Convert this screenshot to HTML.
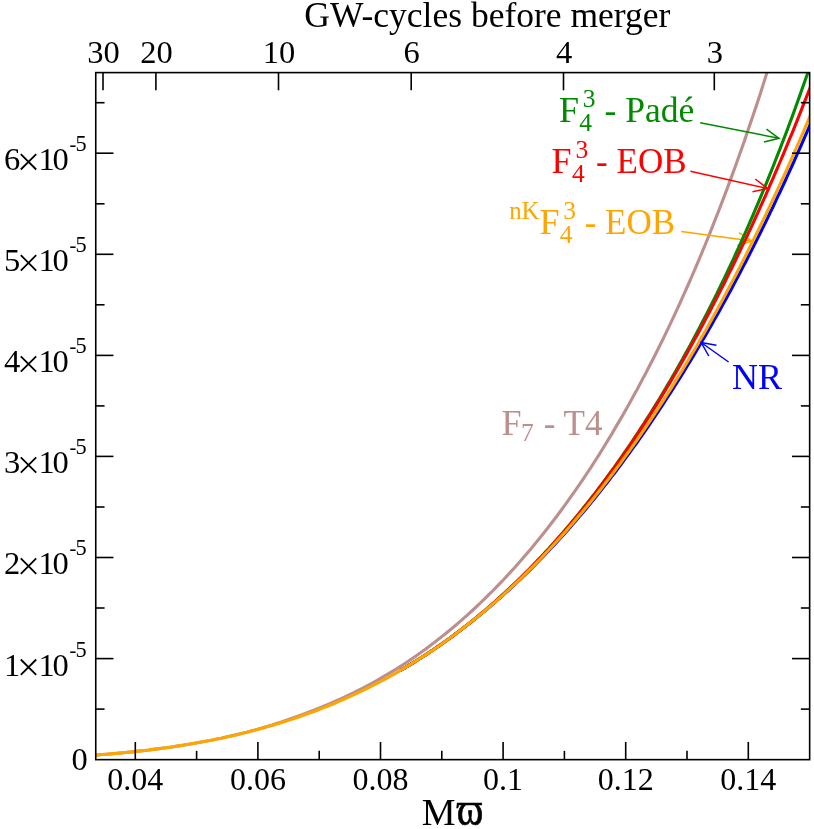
<!DOCTYPE html>
<html><head><meta charset="utf-8"><title>GW flux</title>
<style>html,body{margin:0;padding:0;background:#fff}svg{display:block;will-change:transform}text{font-family:"Liberation Serif",serif;}</style></head><body>
<svg width="814" height="829" viewBox="0 0 814 829">
<rect width="814" height="829" fill="#fff"/>
<defs><clipPath id="c"><rect x="95.75" y="72.6" width="713.9" height="687.05"/></clipPath></defs>
<g clip-path="url(#c)" fill="none" stroke-width="3.1" stroke-linejoin="round">
<path d="M93.8,755.2 L98.0,754.9 L102.2,754.5 L106.5,754.2 L110.7,753.9 L115.0,753.5 L119.2,753.1 L123.5,752.7 L127.7,752.3 L132.0,751.9 L136.2,751.4 L140.5,750.9 L144.7,750.5 L149.0,750.0 L153.2,749.4 L157.5,748.9 L161.7,748.3 L166.0,747.8 L170.2,747.2 L174.5,746.5 L178.7,745.9 L183.0,745.2 L187.2,744.5 L191.5,743.8 L195.7,743.1 L199.9,742.3 L204.2,741.5 L208.4,740.7 L212.7,739.9 L216.9,739.0 L221.2,738.2 L225.4,737.3 L229.7,736.3 L233.9,735.3 L238.2,734.3 L242.4,733.3 L246.7,732.2 L250.9,731.0 L255.2,729.9 L259.4,728.7 L263.7,727.4 L267.9,726.2 L272.2,724.9 L276.4,723.5 L280.7,722.2 L284.9,720.8 L289.2,719.3 L293.4,717.8 L297.7,716.3 L301.9,714.8 L306.1,713.2 L310.4,711.5 L314.6,709.9 L318.9,708.2 L323.1,706.5 L327.4,704.7 L331.6,702.9 L335.9,701.0 L340.1,699.1 L344.4,697.1 L348.6,695.1 L352.9,693.1 L357.1,691.0 L361.4,688.8 L365.6,686.6 L369.9,684.3 L374.1,682.0 L378.4,679.6 L382.6,677.2 L386.9,674.7 L391.1,672.2 L395.4,669.6 L399.6,666.9 L403.8,664.2 L408.1,661.4 L412.3,658.5 L416.6,655.6 L420.8,652.5 L425.1,649.5 L429.3,646.3 L433.6,643.1 L437.8,639.8 L442.1,636.4 L446.3,633.0 L450.6,629.5 L454.8,626.0 L459.1,622.3 L463.3,618.6 L467.6,614.8 L471.8,611.0 L476.1,607.0 L480.3,603.0 L484.6,598.9 L488.8,594.7 L493.1,590.5 L497.3,586.1 L501.6,581.7 L505.8,577.2 L510.0,572.6 L514.3,568.0 L518.5,563.2 L522.8,558.3 L527.0,553.4 L531.3,548.4 L535.5,543.2 L539.8,538.0 L544.0,532.7 L548.3,527.3 L552.5,521.8 L556.8,516.2 L561.0,510.5 L565.3,504.6 L569.5,498.7 L573.8,492.7 L578.0,486.6 L582.3,480.4 L586.5,474.0 L590.8,467.6 L595.0,461.0 L599.3,454.3 L603.5,447.5 L607.7,440.6 L612.0,433.6 L616.2,426.4 L620.5,419.1 L624.7,411.7 L629.0,404.2 L633.2,396.5 L637.5,388.7 L641.7,380.8 L646.0,372.8 L650.2,364.5 L654.5,356.2 L658.7,347.7 L663.0,339.1 L667.2,330.3 L671.5,321.4 L675.7,312.3 L680.0,303.0 L684.2,293.6 L688.5,284.0 L692.7,274.3 L697.0,264.4 L701.2,254.3 L705.5,244.0 L709.7,233.6 L713.9,222.9 L718.2,212.1 L722.4,201.1 L726.7,189.9 L730.9,178.4 L735.2,166.8 L739.4,155.0 L743.7,142.9 L747.9,130.6 L752.2,118.1 L756.4,105.4 L760.7,92.4 L764.9,79.1 L769.2,65.7 L773.4,51.9 L777.7,37.9 L781.9,23.6 L786.2,9.1 L790.4,-5.8 L794.7,-20.9 L798.9,-36.3 L803.2,-52.1 L807.4,-68.1 L811.6,-84.5" stroke="#bc8f8f"/>
</g><g stroke="#ffa500" stroke-width="1.5" fill="none"><line x1="681.2" y1="231.5" x2="752" y2="240.9"/><path d="M738.9,232.6 L752,240.9 L737.2,245.5"/></g><g clip-path="url(#c)" fill="none" stroke-width="3.1" stroke-linejoin="round">
<path d="M400.0,670.7 L402.4,669.2 L404.9,667.8 L407.3,666.3 L409.7,664.9 L412.2,663.4 L414.6,661.9 L417.1,660.3 L419.5,658.8 L421.9,657.2 L424.4,655.7 L426.8,654.1 L429.2,652.5 L431.7,650.8 L434.1,649.2 L436.5,647.5 L439.0,645.9 L441.4,644.2 L443.8,642.5 L446.3,640.7 L448.7,639.0 L451.2,637.2 L453.6,635.4 L456.0,633.6 L458.5,631.8 L460.9,630.0 L463.3,628.1 L465.8,626.3 L468.2,624.4 L470.6,622.5 L473.1,620.5 L475.5,618.6 L477.9,616.6 L480.4,614.6 L482.8,612.6 L485.3,610.6 L487.7,608.6 L490.1,606.5 L492.6,604.4 L495.0,602.3 L497.4,600.2 L499.9,598.1 L502.3,595.9 L504.7,593.7 L507.2,591.5 L509.6,589.3 L512.0,587.1 L514.5,584.8 L516.9,582.5 L519.4,580.2 L521.8,577.9 L524.2,575.5 L526.7,573.2 L529.1,570.8 L531.5,568.4 L534.0,566.0 L536.4,563.5 L538.8,561.0 L541.3,558.5 L543.7,556.0 L546.1,553.5 L548.6,550.9 L551.0,548.3 L553.5,545.7 L555.9,543.1 L558.3,540.5 L560.8,537.8 L563.2,535.1 L565.6,532.4 L568.1,529.7 L570.5,526.9 L572.9,524.1 L575.4,521.3 L577.8,518.5 L580.2,515.6 L582.7,512.8 L585.1,509.9 L587.6,506.9 L590.0,504.0 L592.4,501.0 L594.9,498.0 L597.3,495.0 L599.7,492.0 L602.2,488.9 L604.6,485.8 L607.0,482.7 L609.5,479.6 L611.9,476.4 L614.4,473.2 L616.8,470.0 L619.2,466.8 L621.7,463.5 L624.1,460.2 L626.5,456.9 L629.0,453.6 L631.4,450.2 L633.8,446.9 L636.3,443.5 L638.7,440.0 L641.1,436.6 L643.6,433.1 L646.0,429.6 L648.5,426.0 L650.9,422.4 L653.3,418.9 L655.8,415.2 L658.2,411.6 L660.6,407.9 L663.1,404.2 L665.5,400.5 L667.9,396.7 L670.4,393.0 L672.8,389.2 L675.2,385.3 L677.7,381.5 L680.1,377.6 L682.6,373.6 L685.0,369.7 L687.4,365.7 L689.9,361.7 L692.3,357.7 L694.7,353.6 L697.2,349.5 L699.6,345.4 L702.0,341.3 L704.5,337.1 L706.9,332.9 L709.3,328.7 L711.8,324.4 L714.2,320.1 L716.7,315.8 L719.1,311.4 L721.5,307.0 L724.0,302.6 L726.4,298.2 L728.8,293.7 L731.3,289.2 L733.7,284.6 L736.1,280.0 L738.6,275.4 L741.0,270.8 L743.4,266.1 L745.9,261.4 L748.3,256.7 L750.8,251.9 L753.2,247.1 L755.6,242.3 L758.1,237.4 L760.5,232.5 L762.9,227.6 L765.4,222.6 L767.8,217.6 L770.2,212.5 L772.7,207.5 L775.1,202.3 L777.5,197.2 L780.0,192.0 L782.4,186.8 L784.9,181.5 L787.3,176.2 L789.7,170.9 L792.2,165.5 L794.6,160.1 L797.0,154.6 L799.5,149.1 L801.9,143.6 L804.3,138.1 L806.8,132.4 L809.2,126.8 L811.6,121.1" stroke="#0000ff"/>
<path d="M400.0,670.7 L402.4,669.2 L404.9,667.8 L407.3,666.3 L409.7,664.9 L412.2,663.4 L414.6,661.9 L417.1,660.3 L419.5,658.8 L421.9,657.3 L424.4,655.7 L426.8,654.1 L429.2,652.5 L431.7,650.8 L434.1,649.2 L436.5,647.5 L439.0,645.8 L441.4,644.1 L443.8,642.4 L446.3,640.7 L448.7,638.9 L451.2,637.1 L453.6,635.3 L456.0,633.5 L458.5,631.7 L460.9,629.8 L463.3,627.9 L465.8,626.0 L468.2,624.1 L470.6,622.2 L473.1,620.2 L475.5,618.2 L477.9,616.2 L480.4,614.2 L482.8,612.1 L485.3,610.1 L487.7,608.0 L490.1,605.9 L492.6,603.7 L495.0,601.6 L497.4,599.4 L499.9,597.2 L502.3,595.0 L504.7,592.8 L507.2,590.5 L509.6,588.3 L512.0,586.0 L514.5,583.6 L516.9,581.3 L519.4,578.9 L521.8,576.5 L524.2,574.1 L526.7,571.7 L529.1,569.2 L531.5,566.7 L534.0,564.2 L536.4,561.7 L538.8,559.1 L541.3,556.6 L543.7,554.0 L546.1,551.3 L548.6,548.7 L551.0,546.0 L553.5,543.3 L555.9,540.6 L558.3,537.8 L560.8,535.0 L563.2,532.2 L565.6,529.4 L568.1,526.5 L570.5,523.7 L572.9,520.8 L575.4,517.8 L577.8,514.9 L580.2,511.9 L582.7,508.8 L585.1,505.8 L587.6,502.7 L590.0,499.6 L592.4,496.5 L594.9,493.4 L597.3,490.2 L599.7,487.0 L602.2,483.7 L604.6,480.4 L607.0,477.1 L609.5,473.8 L611.9,470.5 L614.4,467.1 L616.8,463.6 L619.2,460.2 L621.7,456.7 L624.1,453.2 L626.5,449.7 L629.0,446.1 L631.4,442.5 L633.8,438.9 L636.3,435.2 L638.7,431.5 L641.1,427.7 L643.6,424.0 L646.0,420.2 L648.5,416.3 L650.9,412.5 L653.3,408.6 L655.8,404.6 L658.2,400.7 L660.6,396.7 L663.1,392.6 L665.5,388.5 L667.9,384.4 L670.4,380.3 L672.8,376.1 L675.2,371.9 L677.7,367.6 L680.1,363.3 L682.6,359.0 L685.0,354.6 L687.4,350.2 L689.9,345.7 L692.3,341.2 L694.7,336.7 L697.2,332.1 L699.6,327.5 L702.0,322.8 L704.5,318.1 L706.9,313.4 L709.3,308.6 L711.8,303.8 L714.2,298.9 L716.7,294.0 L719.1,289.0 L721.5,284.0 L724.0,279.0 L726.4,273.9 L728.8,268.7 L731.3,263.5 L733.7,258.3 L736.1,253.0 L738.6,247.7 L741.0,242.3 L743.4,236.8 L745.9,231.4 L748.3,225.8 L750.8,220.2 L753.2,214.6 L755.6,208.9 L758.1,203.1 L760.5,197.3 L762.9,191.5 L765.4,185.6 L767.8,179.6 L770.2,173.6 L772.7,167.5 L775.1,161.3 L777.5,155.1 L780.0,148.9 L782.4,142.5 L784.9,136.1 L787.3,129.7 L789.7,123.2 L792.2,116.6 L794.6,109.9 L797.0,103.2 L799.5,96.4 L801.9,89.6 L804.3,82.7 L806.8,75.7 L809.2,68.6 L811.6,61.5" stroke="#008a00"/>
<path d="M400.0,670.7 L402.4,669.2 L404.9,667.8 L407.3,666.3 L409.7,664.9 L412.2,663.4 L414.6,661.9 L417.1,660.4 L419.5,658.8 L421.9,657.3 L424.4,655.7 L426.8,654.1 L429.2,652.5 L431.7,650.9 L434.1,649.2 L436.5,647.6 L439.0,645.9 L441.4,644.2 L443.8,642.5 L446.3,640.7 L448.7,639.0 L451.2,637.2 L453.6,635.4 L456.0,633.6 L458.5,631.8 L460.9,629.9 L463.3,628.0 L465.8,626.1 L468.2,624.2 L470.6,622.3 L473.1,620.3 L475.5,618.4 L477.9,616.4 L480.4,614.3 L482.8,612.3 L485.3,610.2 L487.7,608.2 L490.1,606.1 L492.6,603.9 L495.0,601.8 L497.4,599.6 L499.9,597.4 L502.3,595.2 L504.7,593.0 L507.2,590.7 L509.6,588.5 L512.0,586.2 L514.5,583.9 L516.9,581.5 L519.4,579.1 L521.8,576.8 L524.2,574.4 L526.7,571.9 L529.1,569.5 L531.5,567.0 L534.0,564.5 L536.4,561.9 L538.8,559.4 L541.3,556.8 L543.7,554.2 L546.1,551.6 L548.6,549.0 L551.0,546.3 L553.5,543.6 L555.9,540.9 L558.3,538.1 L560.8,535.3 L563.2,532.5 L565.6,529.7 L568.1,526.9 L570.5,524.0 L572.9,521.1 L575.4,518.2 L577.8,515.2 L580.2,512.2 L582.7,509.2 L585.1,506.2 L587.6,503.1 L590.0,500.0 L592.4,496.9 L594.9,493.8 L597.3,490.6 L599.7,487.4 L602.2,484.2 L604.6,480.9 L607.0,477.6 L609.5,474.3 L611.9,471.0 L614.4,467.6 L616.8,464.2 L619.2,460.8 L621.7,457.4 L624.1,453.9 L626.5,450.4 L629.0,446.8 L631.4,443.2 L633.8,439.6 L636.3,436.0 L638.7,432.3 L641.1,428.6 L643.6,424.9 L646.0,421.2 L648.5,417.4 L650.9,413.6 L653.3,409.7 L655.8,405.8 L658.2,401.9 L660.6,398.0 L663.1,394.0 L665.5,390.0 L667.9,386.0 L670.4,381.9 L672.8,377.8 L675.2,373.6 L677.7,369.5 L680.1,365.3 L682.6,361.0 L685.0,356.8 L687.4,352.5 L689.9,348.1 L692.3,343.7 L694.7,339.3 L697.2,334.9 L699.6,330.4 L702.0,325.9 L704.5,321.4 L706.9,316.8 L709.3,312.2 L711.8,307.5 L714.2,302.8 L716.7,298.1 L719.1,293.4 L721.5,288.6 L724.0,283.7 L726.4,278.9 L728.8,273.9 L731.3,269.0 L733.7,264.0 L736.1,259.0 L738.6,253.9 L741.0,248.9 L743.4,243.7 L745.9,238.6 L748.3,233.3 L750.8,228.1 L753.2,222.8 L755.6,217.5 L758.1,212.1 L760.5,206.7 L762.9,201.3 L765.4,195.8 L767.8,190.3 L770.2,184.7 L772.7,179.1 L775.1,173.4 L777.5,167.8 L780.0,162.0 L782.4,156.3 L784.9,150.4 L787.3,144.6 L789.7,138.7 L792.2,132.8 L794.6,126.8 L797.0,120.8 L799.5,114.7 L801.9,108.6 L804.3,102.4 L806.8,96.2 L809.2,90.0 L811.6,83.7" stroke="#ff0000"/>
<path d="M93.8,755.2 L98.0,754.9 L102.2,754.5 L106.5,754.2 L110.7,753.9 L115.0,753.5 L119.2,753.1 L123.5,752.7 L127.7,752.3 L132.0,751.9 L136.2,751.4 L140.5,750.9 L144.7,750.5 L149.0,750.0 L153.2,749.4 L157.5,748.9 L161.7,748.3 L166.0,747.8 L170.2,747.2 L174.5,746.5 L178.7,745.9 L183.0,745.2 L187.2,744.5 L191.5,743.8 L195.7,743.1 L199.9,742.3 L204.2,741.5 L208.4,740.7 L212.7,739.9 L216.9,739.0 L221.2,738.2 L225.4,737.3 L229.7,736.3 L233.9,735.4 L238.2,734.4 L242.4,733.3 L246.7,732.3 L250.9,731.2 L255.2,730.1 L259.4,729.0 L263.7,727.8 L267.9,726.6 L272.2,725.4 L276.4,724.1 L280.7,722.8 L284.9,721.5 L289.2,720.1 L293.4,718.7 L297.7,717.3 L301.9,715.8 L306.1,714.3 L310.4,712.7 L314.6,711.2 L318.9,709.5 L323.1,707.9 L327.4,706.2 L331.6,704.5 L335.9,702.7 L340.1,700.9 L344.4,699.0 L348.6,697.1 L352.9,695.2 L357.1,693.2 L361.4,691.2 L365.6,689.1 L369.9,687.0 L374.1,684.8 L378.4,682.6 L382.6,680.4 L386.9,678.1 L391.1,675.7 L395.4,673.3 L399.6,670.9 L403.8,668.4 L408.1,665.9 L412.3,663.3 L416.6,660.6 L420.8,657.9 L425.1,655.2 L429.3,652.4 L433.6,649.6 L437.8,646.7 L442.1,643.7 L446.3,640.7 L450.6,637.6 L454.8,634.5 L459.1,631.3 L463.3,628.1 L467.6,624.8 L471.8,621.4 L476.1,618.0 L480.3,614.6 L484.6,611.0 L488.8,607.5 L493.1,603.8 L497.3,600.1 L501.6,596.3 L505.8,592.5 L510.0,588.6 L514.3,584.6 L518.5,580.6 L522.8,576.5 L527.0,572.3 L531.3,568.1 L535.5,563.8 L539.8,559.5 L544.0,555.0 L548.3,550.5 L552.5,546.0 L556.8,541.3 L561.0,536.6 L565.3,531.9 L569.5,527.0 L573.8,522.1 L578.0,517.1 L582.3,512.0 L586.5,506.9 L590.8,501.7 L595.0,496.4 L599.3,491.0 L603.5,485.6 L607.7,480.1 L612.0,474.5 L616.2,468.8 L620.5,463.1 L624.7,457.2 L629.0,451.3 L633.2,445.4 L637.5,439.3 L641.7,433.1 L646.0,426.9 L650.2,420.6 L654.5,414.2 L658.7,407.7 L663.0,401.1 L667.2,394.5 L671.5,387.8 L675.7,380.9 L680.0,374.0 L684.2,367.0 L688.5,359.9 L692.7,352.8 L697.0,345.5 L701.2,338.1 L705.5,330.7 L709.7,323.1 L713.9,315.5 L718.2,307.8 L722.4,300.0 L726.7,292.1 L730.9,284.0 L735.2,275.9 L739.4,267.7 L743.7,259.4 L747.9,251.0 L752.2,242.5 L756.4,233.9 L760.7,225.2 L764.9,216.4 L769.2,207.5 L773.4,198.5 L777.7,189.3 L781.9,180.1 L786.2,170.8 L790.4,161.3 L794.7,151.7 L798.9,142.1 L803.2,132.3 L807.4,122.4 L811.6,112.4" stroke="#ffa500"/>
</g>
<g stroke="#000" stroke-width="1.6" fill="none" stroke-linecap="butt">
<rect x="95.75" y="72.6" width="713.9" height="687.05"/>
<line x1="135.3" y1="759.65" x2="135.3" y2="741.9499999999999"/>
<line x1="196.6" y1="759.65" x2="196.6" y2="750.85"/>
<line x1="257.9" y1="759.65" x2="257.9" y2="741.9499999999999"/>
<line x1="319.2" y1="759.65" x2="319.2" y2="750.85"/>
<line x1="380.5" y1="759.65" x2="380.5" y2="741.9499999999999"/>
<line x1="441.8" y1="759.65" x2="441.8" y2="750.85"/>
<line x1="503.1" y1="759.65" x2="503.1" y2="741.9499999999999"/>
<line x1="564.4" y1="759.65" x2="564.4" y2="750.85"/>
<line x1="625.7" y1="759.65" x2="625.7" y2="741.9499999999999"/>
<line x1="687.0" y1="759.65" x2="687.0" y2="750.85"/>
<line x1="748.3" y1="759.65" x2="748.3" y2="741.9499999999999"/>
<line x1="103" y1="72.6" x2="103" y2="90.3"/>
<line x1="155.9" y1="72.6" x2="155.9" y2="90.3"/>
<line x1="278.5" y1="72.6" x2="278.5" y2="90.3"/>
<line x1="411.2" y1="72.6" x2="411.2" y2="90.3"/>
<line x1="563.5" y1="72.6" x2="563.5" y2="90.3"/>
<line x1="714.3" y1="72.6" x2="714.3" y2="90.3"/>
<line x1="95.75" y1="709.1" x2="104.55" y2="709.1"/>
<line x1="809.65" y1="709.1" x2="800.85" y2="709.1"/>
<line x1="95.75" y1="658.6" x2="113.45" y2="658.6"/>
<line x1="809.65" y1="658.6" x2="791.9499999999999" y2="658.6"/>
<line x1="95.75" y1="608.0" x2="104.55" y2="608.0"/>
<line x1="809.65" y1="608.0" x2="800.85" y2="608.0"/>
<line x1="95.75" y1="557.5" x2="113.45" y2="557.5"/>
<line x1="809.65" y1="557.5" x2="791.9499999999999" y2="557.5"/>
<line x1="95.75" y1="507.0" x2="104.55" y2="507.0"/>
<line x1="809.65" y1="507.0" x2="800.85" y2="507.0"/>
<line x1="95.75" y1="456.4" x2="113.45" y2="456.4"/>
<line x1="809.65" y1="456.4" x2="791.9499999999999" y2="456.4"/>
<line x1="95.75" y1="405.9" x2="104.55" y2="405.9"/>
<line x1="809.65" y1="405.9" x2="800.85" y2="405.9"/>
<line x1="95.75" y1="355.4" x2="113.45" y2="355.4"/>
<line x1="809.65" y1="355.4" x2="791.9499999999999" y2="355.4"/>
<line x1="95.75" y1="304.8" x2="104.55" y2="304.8"/>
<line x1="809.65" y1="304.8" x2="800.85" y2="304.8"/>
<line x1="95.75" y1="254.3" x2="113.45" y2="254.3"/>
<line x1="809.65" y1="254.3" x2="791.9499999999999" y2="254.3"/>
<line x1="95.75" y1="203.8" x2="104.55" y2="203.8"/>
<line x1="809.65" y1="203.8" x2="800.85" y2="203.8"/>
<line x1="95.75" y1="153.2" x2="113.45" y2="153.2"/>
<line x1="809.65" y1="153.2" x2="791.9499999999999" y2="153.2"/>
<line x1="95.75" y1="102.7" x2="104.55" y2="102.7"/>
<line x1="809.65" y1="102.7" x2="800.85" y2="102.7"/>
</g>
<g font-size="32.5" fill="#000">
<text x="304.3" y="27.1" font-size="35.5">GW-cycles before merger</text>
<text x="103.5" y="63.2" text-anchor="middle">30</text>
<text x="156.4" y="63.2" text-anchor="middle">20</text>
<text x="279.0" y="63.2" text-anchor="middle">10</text>
<text x="411.7" y="63.2" text-anchor="middle">6</text>
<text x="564.0" y="63.2" text-anchor="middle">4</text>
<text x="714.8" y="63.2" text-anchor="middle">3</text>
<text x="135.3" y="790.3" text-anchor="middle" font-size="32">0.04</text>
<text x="257.9" y="790.3" text-anchor="middle" font-size="32">0.06</text>
<text x="380.5" y="790.3" text-anchor="middle" font-size="32">0.08</text>
<text x="503.1" y="790.3" text-anchor="middle" font-size="32">0.1</text>
<text x="625.7" y="790.3" text-anchor="middle" font-size="32">0.12</text>
<text x="748.3" y="790.3" text-anchor="middle" font-size="32">0.14</text>
<text x="71.4" y="770.4">0</text>
<text x="4" y="675.5">1</text>
<path d="M20.8,659.5 L36.2,674.9 M36.2,659.5 L20.8,674.9" stroke="#000" stroke-width="1.8" fill="none"/>
<text x="38.5" y="675.5">1</text><text x="52.4" y="675.5">0</text>
<text x="69.6" y="656.5" font-size="20.5">-</text><text x="75.5" y="656.5" font-size="22.3">5</text>
<text x="4" y="574.4">2</text>
<path d="M20.8,558.4 L36.2,573.8 M36.2,558.4 L20.8,573.8" stroke="#000" stroke-width="1.8" fill="none"/>
<text x="38.5" y="574.4">1</text><text x="52.4" y="574.4">0</text>
<text x="69.6" y="555.4" font-size="20.5">-</text><text x="75.5" y="555.4" font-size="22.3">5</text>
<text x="4" y="473.3">3</text>
<path d="M20.8,457.3 L36.2,472.7 M36.2,457.3 L20.8,472.7" stroke="#000" stroke-width="1.8" fill="none"/>
<text x="38.5" y="473.3">1</text><text x="52.4" y="473.3">0</text>
<text x="69.6" y="454.3" font-size="20.5">-</text><text x="75.5" y="454.3" font-size="22.3">5</text>
<text x="4" y="372.3">4</text>
<path d="M20.8,356.3 L36.2,371.7 M36.2,356.3 L20.8,371.7" stroke="#000" stroke-width="1.8" fill="none"/>
<text x="38.5" y="372.3">1</text><text x="52.4" y="372.3">0</text>
<text x="69.6" y="353.3" font-size="20.5">-</text><text x="75.5" y="353.3" font-size="22.3">5</text>
<text x="4" y="271.2">5</text>
<path d="M20.8,255.2 L36.2,270.6 M36.2,255.2 L20.8,270.6" stroke="#000" stroke-width="1.8" fill="none"/>
<text x="38.5" y="271.2">1</text><text x="52.4" y="271.2">0</text>
<text x="69.6" y="252.2" font-size="20.5">-</text><text x="75.5" y="252.2" font-size="22.3">5</text>
<text x="4" y="170.1">6</text>
<path d="M20.8,154.1 L36.2,169.5 M36.2,154.1 L20.8,169.5" stroke="#000" stroke-width="1.8" fill="none"/>
<text x="38.5" y="170.1">1</text><text x="52.4" y="170.1">0</text>
<text x="69.6" y="151.1" font-size="20.5">-</text><text x="75.5" y="151.1" font-size="22.3">5</text>
<text x="421.8" y="824.9" font-size="38">M</text>
<text transform="translate(456.8,825.3) scale(1,1.22)" font-size="40.4" stroke="#000" stroke-width="0.6">ϖ</text>
</g>
<g fill="#008a00"><text x="558.96" y="121.6" font-size="36">F</text><text x="579.36" y="130.5" font-size="25.5">4</text><text x="582.76" y="106.6" font-size="25.5">3</text><text x="595.5600000000001" y="121.6" font-size="35.6" xml:space="preserve"> - Padé</text></g>
<g fill="#ff0000"><text x="551.6" y="172.9" font-size="36">F</text><text x="572.0" y="181.8" font-size="25.5">4</text><text x="575.4" y="157.9" font-size="25.5">3</text><text x="587.35" y="172.9" font-size="35" xml:space="preserve"> - EOB</text></g>
<g fill="#ffa500"><text x="509.2" y="219.0" font-size="24.8">nK</text><text x="539.4" y="233.9" font-size="36">F</text><text x="559.8" y="242.8" font-size="25.5">4</text><text x="563.1999999999999" y="218.9" font-size="25.5">3</text><text x="575.9" y="233.9" font-size="35" xml:space="preserve"> - EOB</text></g>
<text x="732.1" y="389.2" font-size="36" fill="#0000ff">NR</text>
<g fill="#bc8f8f"><text x="501.5" y="434.5" font-size="36">F</text><text x="521" y="440.5" font-size="25.5">7</text><text x="535" y="434.5" font-size="35" xml:space="preserve"> - T4</text></g>
<g stroke="#008a00" stroke-width="1.5" fill="none"><line x1="700.2" y1="122.7" x2="779.0" y2="138.3"/><path d="M766.5,129.1 L779.0,138.3 L763.9,142.0"/></g>
<g stroke="#ff0000" stroke-width="1.5" fill="none"><line x1="690.4" y1="171.2" x2="767.6" y2="188.5"/><path d="M755.3,179.0 L767.6,188.5 L752.5,191.8"/></g>
<g stroke="#0000ff" stroke-width="1.5" fill="none"><line x1="728.6" y1="362" x2="701.2" y2="342.5"/><path d="M708.8,356.0 L701.2,342.5 L716.4,345.3"/></g>
</svg></body></html>
